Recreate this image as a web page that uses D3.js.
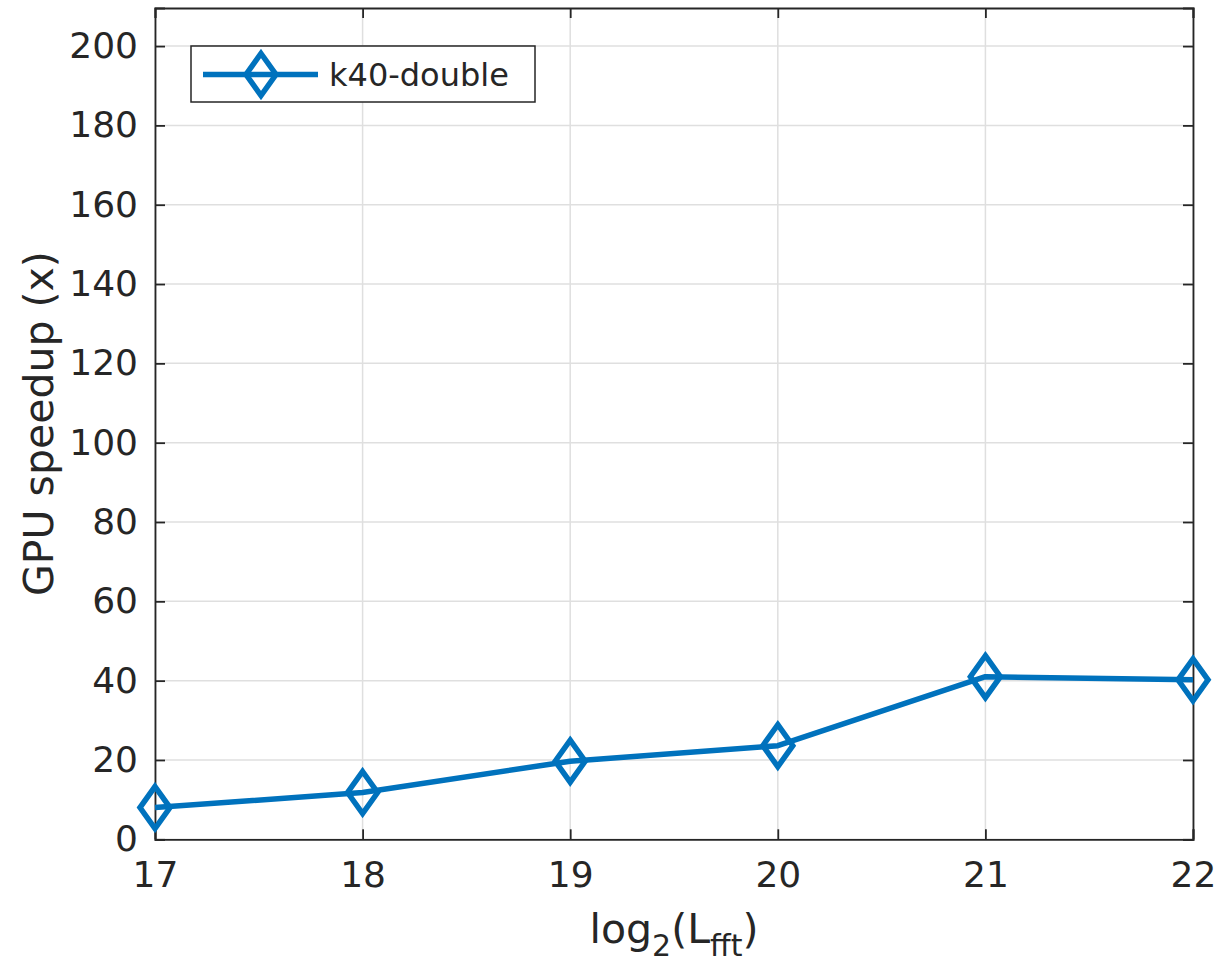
<!DOCTYPE html>
<html><head><meta charset="utf-8">
<script src="https://cdn.jsdelivr.net/npm/d3@7"></script>
<style>body{margin:0;background:#fff;} text{font-family:"DejaVu Sans",sans-serif;fill:#262626;}</style>
</head><body>
<svg id="c" width="1221" height="967"></svg>
<script>
const xValues = [17, 18, 19, 20, 21, 22];
const speedup = [8.0, 11.8, 19.7, 23.6, 41.0, 40.2];
const seriesName = "k40-double";
const yTicks = [0, 20, 40, 60, 80, 100, 120, 140, 160, 180, 200];
const xTicks = [17, 18, 19, 20, 21, 22];

const svg = d3.select("#c");
const L = 155, R = 1193, T = 8, B = 839.3;
const x = d3.scaleLinear().domain([17, 22]).range([L, R]);
const y = d3.scaleLinear().domain([0, 209.6]).range([B, T]);
const blue = "#0072BD", axc = "#262626";

// grid
svg.append("g").selectAll("line.gx").data(xTicks).join("line")
  .attr("x1", d => x(d)).attr("x2", d => x(d)).attr("y1", T).attr("y2", B)
  .attr("stroke", "#dfdfdf").attr("stroke-width", 1.5);
svg.append("g").selectAll("line.gy").data(yTicks).join("line")
  .attr("x1", L).attr("x2", R).attr("y1", d => y(d)).attr("y2", d => y(d))
  .attr("stroke", "#dfdfdf").attr("stroke-width", 1.5);

// axes
const xAxis = svg.append("g").attr("transform", `translate(0,${B})`)
  .call(d3.axisBottom(x).tickValues(xTicks).tickSize(-10).tickPadding(22).tickFormat(d3.format("d")));
const xAxisTop = svg.append("g").attr("transform", `translate(0,${T})`)
  .call(d3.axisTop(x).tickValues(xTicks).tickSize(-10).tickFormat(""));
const yAxis = svg.append("g").attr("transform", `translate(${L},0)`)
  .call(d3.axisLeft(y).tickValues(yTicks).tickSize(-10).tickPadding(17).tickFormat(d3.format("d")));
const yAxisR = svg.append("g").attr("transform", `translate(${R},0)`)
  .call(d3.axisRight(y).tickValues(yTicks).tickSize(-10).tickFormat(""));
[xAxis, xAxisTop, yAxis, yAxisR].forEach(g => {
  g.select(".domain").attr("stroke", axc).attr("stroke-width", 1.8);
  g.selectAll(".tick line").attr("stroke", axc).attr("stroke-width", 1.8);
  g.selectAll(".tick text").attr("font-size", 36).attr("fill", axc)
    .style("font-family", '"DejaVu Sans",sans-serif');
});
xAxis.selectAll(".tick text").attr("dy", "0.71em");

// line
svg.append("path").datum(xValues.map((v, i) => [v, speedup[i]]))
  .attr("d", d3.line().x(d => x(d[0])).y(d => y(d[1])))
  .attr("fill", "none").attr("stroke", blue).attr("stroke-width", 5.5).attr("stroke-linejoin", "round");

const diamond = (hw, hh) => `M0,${-hh}L${hw},0L0,${hh}L${-hw},0Z`;
svg.append("g").selectAll("path").data(xValues.map((v, i) => [v, speedup[i]])).join("path")
  .attr("transform", d => `translate(${x(d[0])},${y(d[1])})`)
  .attr("d", diamond(15, 21))
  .attr("fill", "none").attr("stroke", blue).attr("stroke-width", 5.5);

// legend
const lg = svg.append("g");
lg.append("rect").attr("x", 191).attr("y", 46).attr("width", 344).attr("height", 56)
  .attr("fill", "#fff").attr("stroke", axc).attr("stroke-width", 1.5);
lg.append("line").attr("x1", 203).attr("x2", 318).attr("y1", 74.5).attr("y2", 74.5)
  .attr("stroke", blue).attr("stroke-width", 5.5);
lg.append("path").attr("transform", "translate(261,74.5)").attr("d", diamond(15, 21))
  .attr("fill", "none").attr("stroke", blue).attr("stroke-width", 5.5);
lg.append("text").attr("x", 329).attr("y", 86).attr("font-size", 32).text(seriesName);

// axis labels
const xl = svg.append("text").attr("x", (L + R) / 2).attr("y", 943).attr("text-anchor", "middle").attr("font-size", 41);
xl.append("tspan").text("log");
xl.append("tspan").attr("font-size", 30).attr("dy", 13).text("2");
xl.append("tspan").attr("dy", -13).text("(L");
xl.append("tspan").attr("font-size", 30).attr("dy", 13).text("fft");
xl.append("tspan").attr("dy", -13).text(")");

svg.append("text").attr("transform", `translate(53,${(T + B) / 2}) rotate(-90)`)
  .attr("text-anchor", "middle").attr("font-size", 41).text("GPU speedup (x)");
</script>
</body></html>
